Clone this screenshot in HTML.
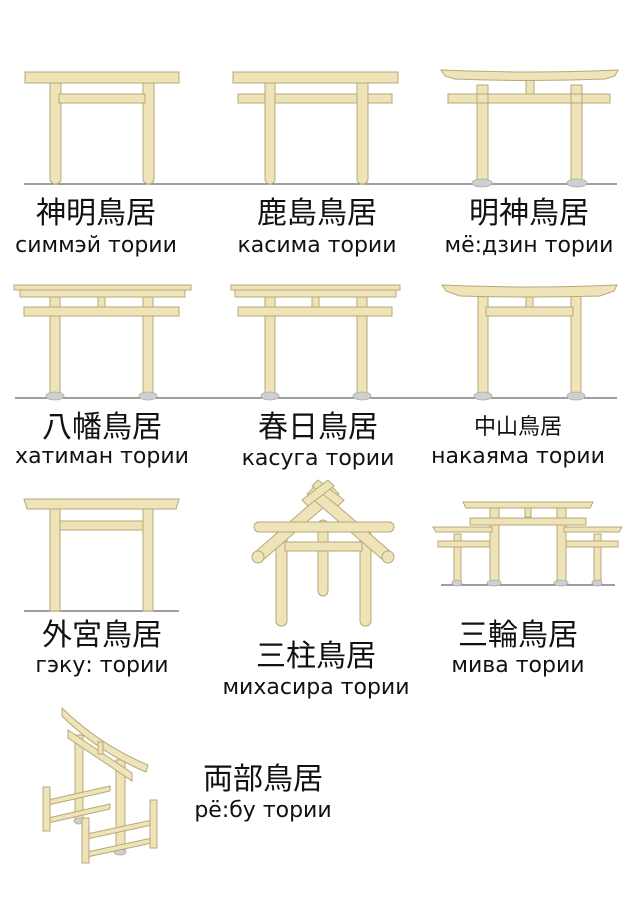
<!DOCTYPE html>
<html><head><meta charset="utf-8"><style>
html,body{margin:0;padding:0;background:#fff;}
svg{display:block}
.w{fill:#efe4b8;stroke:#b5a87a;stroke-width:1}
.b{fill:#cfcfcf;stroke:#aaa;stroke-width:.8}
.g{stroke:#666;stroke-width:1.3}
.j{font-family:"Liberation Sans","Noto Sans CJK JP",sans-serif;font-size:30px;fill:#111;text-anchor:middle}
.r{font-family:"DejaVu Sans","Liberation Sans",sans-serif;font-size:22px;fill:#111;text-anchor:middle}
</style></head><body>
<svg width="636" height="900" viewBox="0 0 636 900" xmlns="http://www.w3.org/2000/svg">
<line class="g" x1="24" y1="184" x2="617" y2="184"/>
<rect class="w" x="50" y="80" width="11" height="104" rx="5"/>
<rect class="w" x="143" y="80" width="11" height="104" rx="5"/>
<rect class="w" x="25" y="72" width="154" height="11"/>
<rect class="w" x="59" y="94" width="86" height="9"/>
<rect class="w" x="265" y="80" width="10" height="104" rx="5"/>
<rect class="w" x="357" y="80" width="11" height="104" rx="5"/>
<rect class="w" x="233" y="72" width="165" height="11"/>
<rect class="w" x="238" y="94" width="27" height="9"/><rect class="w" x="275" y="94" width="82" height="9"/><rect class="w" x="368" y="94" width="24" height="9"/>
<rect class="w" x="477" y="85" width="11" height="97"/>
<rect class="w" x="571" y="85" width="11" height="97"/>
<ellipse class="b" cx="482" cy="183" rx="10" ry="4"/><ellipse class="b" cx="577" cy="183" rx="10" ry="4"/>
<rect class="w" x="526" y="80" width="8" height="14"/>
<path class="w" d="M441,70 Q530,74 618,70 L615,76 L605,79 Q530,82 455,79 L445,76 Z"/>
<rect class="w" x="448" y="94" width="162" height="9"/>
<line stroke="#b5a87a" x1="477" y1="94" x2="477" y2="103"/><line stroke="#b5a87a" x1="488" y1="94" x2="488" y2="103"/><line stroke="#b5a87a" x1="571" y1="94" x2="571" y2="103"/><line stroke="#b5a87a" x1="582" y1="94" x2="582" y2="103"/>
<text class="j" x="96" y="223">神明鳥居</text><text class="r" x="96" y="252">симмэй тории</text>
<text class="j" x="317" y="223">鹿島鳥居</text><text class="r" x="317" y="252">касима тории</text>
<text class="j" x="529" y="223">明神鳥居</text><text class="r" x="529" y="252">мё:дзин тории</text>

<line class="g" x1="15" y1="398" x2="617" y2="398"/>
<rect class="w" x="50" y="296" width="10" height="100"/><rect class="w" x="143" y="296" width="10" height="100"/>
<ellipse class="b" cx="55" cy="396" rx="9" ry="4"/><ellipse class="b" cx="148" cy="396" rx="9" ry="4"/>
<rect class="w" x="98" y="296" width="7" height="12"/>
<rect class="w" x="14" y="285" width="177" height="5"/><rect class="w" x="20" y="290" width="165" height="7"/>
<rect class="w" x="24" y="307" width="155" height="9"/>
<rect class="w" x="265" y="296" width="10" height="100"/><rect class="w" x="357" y="296" width="10" height="100"/>
<ellipse class="b" cx="270" cy="396" rx="9" ry="4"/><ellipse class="b" cx="362" cy="396" rx="9" ry="4"/>
<rect class="w" x="312" y="296" width="7" height="12"/>
<rect class="w" x="231" y="285" width="169" height="5"/><rect class="w" x="235" y="290" width="161" height="7"/>
<rect class="w" x="238" y="307" width="154" height="9"/>
<rect class="w" x="478" y="296" width="10" height="100"/><rect class="w" x="571" y="296" width="10" height="100"/>
<ellipse class="b" cx="483" cy="396" rx="9" ry="4"/><ellipse class="b" cx="576" cy="396" rx="9" ry="4"/>
<rect class="w" x="526" y="296" width="7" height="12"/>
<path class="w" d="M442,285 Q530,289 617,285 L614,291 L600,296 Q530,298 460,296 L446,291 Z"/>
<rect class="w" x="486" y="307" width="87" height="9"/>
<text class="j" x="102" y="437">八幡鳥居</text><text class="r" x="102" y="463">хатиман тории</text>
<text class="j" x="318" y="437">春日鳥居</text><text class="r" x="318" y="465">касуга тории</text>
<text class="j" x="518" y="434" style="font-size:22px">中山鳥居</text><text class="r" x="518" y="463">накаяма тории</text>

<line class="g" x1="24" y1="611" x2="179" y2="611"/>
<rect class="w" x="50" y="508" width="10" height="103"/><rect class="w" x="143" y="508" width="10" height="103"/>
<path class="w" d="M24,499 L179,499 L176,509 L27,509 Z"/>
<rect class="w" x="60" y="521" width="83" height="9"/>
<text class="j" x="102" y="645">外宮鳥居</text><text class="r" x="102" y="672">гэку: тории</text>
<rect class="w" x="276" y="530" width="11" height="96" rx="5"/>
<rect class="w" x="360" y="530" width="11" height="96" rx="5"/>
<rect class="w" x="318" y="520" width="10" height="76" rx="5"/>
<path class="w" d="M254,553 L331,486 L339,494 L262,561 Z"/>
<path class="w" d="M392,553 L315,486 L307,494 L384,561 Z"/>
<path class="w" d="M318,480 L344,500 L338,506 L312,486 Z"/>
<path class="w" d="M328,480 L302,500 L308,506 L334,486 Z"/>
<rect class="w" x="254" y="522" width="140" height="10" rx="5"/>
<rect class="w" x="285" y="542" width="77" height="9"/>
<ellipse class="w" cx="258" cy="557" rx="6" ry="6"/><ellipse class="w" cx="388" cy="557" rx="6" ry="6"/>
<text class="j" x="316" y="666">三柱鳥居</text><text class="r" x="316" y="694">михасира тории</text>
<line class="g" x1="441" y1="585" x2="615" y2="585"/>
<rect class="w" x="490" y="508" width="9" height="75"/><rect class="w" x="557" y="508" width="9" height="75"/>
<rect class="w" x="454" y="534" width="7" height="49"/><rect class="w" x="594" y="534" width="7" height="49"/>
<ellipse class="b" cx="494" cy="583" rx="7" ry="3"/><ellipse class="b" cx="561" cy="583" rx="7" ry="3"/>
<ellipse class="b" cx="457" cy="583" rx="5" ry="3"/><ellipse class="b" cx="597" cy="583" rx="5" ry="3"/>
<path class="w" d="M463,502 L593,502 L590,508 L466,508 Z"/>
<rect class="w" x="525" y="508" width="6" height="9"/>
<rect class="w" x="470" y="518" width="116" height="7"/>
<path class="w" d="M433,527 L492,527 L492,532 L436,532 Z"/><path class="w" d="M564,527 L622,527 L619,532 L564,532 Z"/>
<rect class="w" x="438" y="541" width="52" height="6"/><rect class="w" x="566" y="541" width="52" height="6"/>
<text class="j" x="518" y="645">三輪鳥居</text><text class="r" x="518" y="672">мива тории</text>

<rect class="w" x="75" y="735" width="8" height="86"/>
<rect class="w" x="116" y="760" width="9" height="90"/>
<ellipse class="b" cx="79" cy="821" rx="5" ry="3"/><ellipse class="b" cx="120" cy="852" rx="6" ry="3"/>
<path class="w" d="M62,708 Q100,745 148,765 L146,772 Q98,752 62,716 Z"/>
<path class="w" d="M68,730 L132,773 L132,781 L68,738 Z"/>
<rect class="w" x="98" y="742" width="5" height="12"/>
<path class="w" d="M48,800 L110,786 L110,791 L48,805 Z"/><path class="w" d="M48,818 L110,804 L110,809 L48,823 Z"/>
<rect class="w" x="43" y="787" width="7" height="44"/>
<path class="w" d="M87,834 L152,820 L152,825 L87,839 Z"/><path class="w" d="M87,852 L152,838 L152,843 L87,857 Z"/>
<rect class="w" x="150" y="800" width="7" height="48"/>
<rect class="w" x="82" y="818" width="7" height="45"/>
<text class="j" x="263" y="789">両部鳥居</text><text class="r" x="263" y="817">рё:бу тории</text>
</svg>
</body></html>
